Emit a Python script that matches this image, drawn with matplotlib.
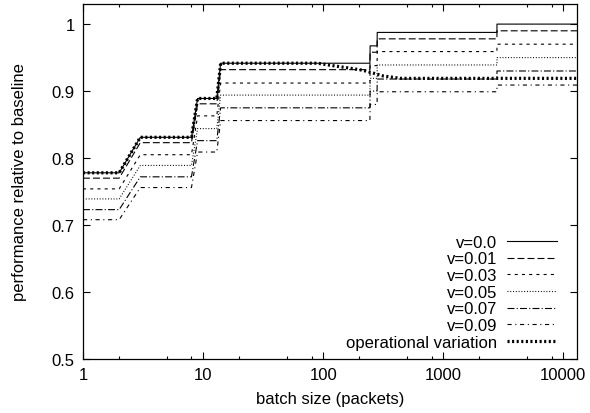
import matplotlib
matplotlib.use("Agg")
import matplotlib.pyplot as plt
from matplotlib.ticker import LogLocator, FixedLocator, NullFormatter

plt.rcParams['font.family'] = ['Liberation Sans', 'DejaVu Sans']
plt.rcParams['lines.scale_dashes'] = False

# batch sizes where the curves change
batch = [1, 2, 3, 8, 9, 13, 14, 245, 246, 281, 282, 2800, 2801, 13000]

v00 = [0.778, 0.778, 0.831, 0.831, 0.889, 0.889, 0.9416, 0.9416, 0.9675, 0.9675, 0.9876, 0.9876, 1.000, 1.000]
v01 = [0.770, 0.770, 0.823, 0.823, 0.881, 0.881, 0.932, 0.932, 0.958, 0.958, 0.978, 0.978, 0.990, 0.990]
v03 = [0.754, 0.754, 0.805, 0.805, 0.863, 0.863, 0.912, 0.912, 0.938, 0.938, 0.959, 0.959, 0.970, 0.970]
v05 = [0.739, 0.739, 0.789, 0.789, 0.844, 0.844, 0.894, 0.894, 0.919, 0.919, 0.939, 0.939, 0.950, 0.950]
v07 = [0.723, 0.723, 0.772, 0.772, 0.826, 0.826, 0.875, 0.875, 0.900, 0.900, 0.918, 0.918, 0.930, 0.930]
v09 = [0.708, 0.708, 0.756, 0.756, 0.809, 0.809, 0.856, 0.856, 0.880, 0.880, 0.899, 0.899, 0.909, 0.909]

# operational variation curve
op_batch = [1, 2, 3, 8, 9, 13, 14, 90, 120, 170, 215, 260, 316, 440, 13000]
op_perf = [0.778, 0.778, 0.831, 0.831, 0.889, 0.889, 0.9416, 0.9416, 0.938, 0.934, 0.931, 0.927, 0.9226, 0.919, 0.919]

fig = plt.figure(figsize=(5.9, 4.14), dpi=100)
ax = fig.add_axes([0.1407, 0.1304, 0.978 - 0.1407, 0.9879 - 0.1304])

lw = 0.8
ax.plot(batch, v00, color="black", lw=lw, label="v=0.0")
ax.plot(batch, v01, color="black", lw=lw, dashes=(5, 2.2), label="v=0.01")
ax.plot(batch, v03, color="black", lw=lw, dashes=(2.2, 3), label="v=0.03")
ax.plot(batch, v05, color="black", lw=lw, dashes=(0.7, 1.3), label="v=0.05")
ax.plot(batch, v07, color="black", lw=lw, dashes=(5, 1.6, 0.8, 1.6), label="v=0.07")
ax.plot(batch, v09, color="black", lw=lw, dashes=(3, 2.6, 0.8, 2.6), label="v=0.09")
ax.plot(op_batch, op_perf, color="black", lw=2.3, dashes=(1.5, 1.8), label="operational variation")

ax.set_xscale("log")
ax.set_xlim(1, 13000)
ax.set_ylim(0.5, 1.03)
ax.xaxis.set_major_locator(FixedLocator([1, 10, 100, 1000, 10000]))
ax.set_xticklabels(["1", "10", "100", "1000", "10000"])
ax.xaxis.set_minor_locator(LogLocator(base=10, subs=(2, 5, 8)))
ax.xaxis.set_minor_formatter(NullFormatter())
ax.set_yticks([0.5, 0.6, 0.7, 0.8, 0.9, 1.0])
ax.set_yticklabels(["0.5", "0.6", "0.7", "0.8", "0.9", "1"])

ax.tick_params(which="both", direction="in", top=True, right=True, labelsize=12, width=0.8)
ax.tick_params(which="major", length=5, pad=6)
ax.tick_params(which="minor", length=2.5)
for s in ax.spines.values():
    s.set_linewidth(0.9)

ax.set_xlabel("batch size (packets)", fontsize=12, labelpad=6)
ax.set_ylabel("performance relative to baseline", fontsize=12, labelpad=18)

ax.legend(loc="lower right", bbox_to_anchor=(0.97, 0.012), markerfirst=False,
          frameon=False, fontsize=12, handlelength=3.0, handletextpad=0.6,
          labelspacing=0.1, borderaxespad=0.0, borderpad=0.3)

fig.savefig("out.png", dpi=100)
